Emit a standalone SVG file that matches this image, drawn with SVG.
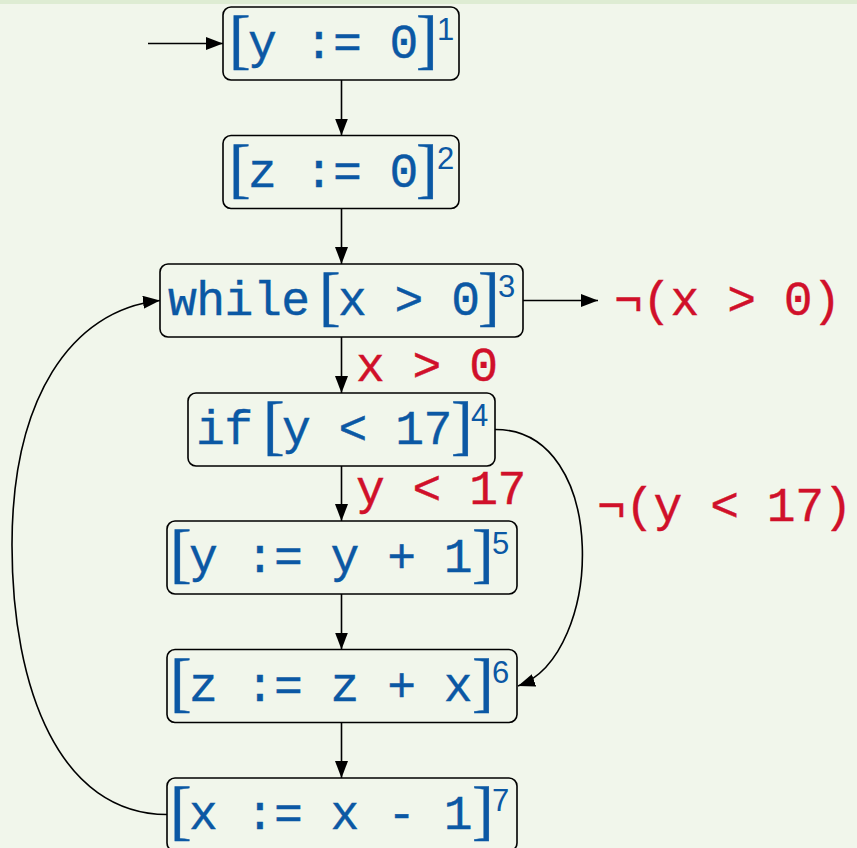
<svg xmlns="http://www.w3.org/2000/svg" width="857" height="848" viewBox="0 0 857 848">
<defs>
<style>
.box{fill:#f1f6eb;stroke:#000;stroke-width:1.6}
.t{font-family:"Liberation Mono",monospace;font-size:48px;letter-spacing:-0.5px;fill:#0b58a4;stroke:#0b58a4;stroke-width:0.4}
.br{font-family:"Liberation Serif",serif;font-size:65px;fill:#0b58a4;stroke:#0b58a4;stroke-width:0.4}
.sup{font-family:"Liberation Sans",sans-serif;font-size:31px;fill:#0b58a4}
.lbl{fill:#d0102a;stroke:#d0102a}
.edge{fill:none;stroke:#000;stroke-width:1.6}
</style>
<marker id="ah" markerUnits="userSpaceOnUse" markerWidth="17" markerHeight="13" refX="17" refY="6.5" orient="auto">
<path d="M0,0 L17,6.5 L0,13 z" fill="#000"/>
</marker>
</defs>
<rect x="0" y="0" width="857" height="848" fill="#f1f6eb"/>
<rect x="0" y="0" width="857" height="4" fill="#deecd3"/>

<g id="edges">
<path class="edge" d="M148,43.5 L223,43.5" marker-end="url(#ah)"/>
<path class="edge" d="M341.5,80 L341.5,135.5" marker-end="url(#ah)"/>
<path class="edge" d="M341.5,208.5 L341.5,264" marker-end="url(#ah)"/>
<path class="edge" d="M523,300.5 L598,300.5" marker-end="url(#ah)"/>
<path class="edge" d="M341.5,337 L341.5,393" marker-end="url(#ah)"/>
<path class="edge" d="M341.5,466 L341.5,521" marker-end="url(#ah)"/>
<path class="edge" d="M341.5,594 L341.5,649.5" marker-end="url(#ah)"/>
<path class="edge" d="M341.5,722.5 L341.5,778" marker-end="url(#ah)"/>
<path class="edge" d="M495,429.5 C610,429 605,655 518,686" marker-end="url(#ah)"/>
<path class="edge" d="M167,814.5 C60,814 12,690 12,545 C12,400 70,310 160,300.5" marker-end="url(#ah)"/>
<text class="t lbl" x="356" y="381">x &gt; 0</text>
<text class="t lbl" x="356" y="504">y &lt; 17</text>
<text class="t lbl" x="614" y="315">¬(x &gt; 0)</text>
<text class="t lbl" x="597" y="521">¬(y &lt; 17)</text>
</g>

<g id="n1">
<rect class="box" x="223" y="7" width="236" height="73" rx="8"/>
<text class="br" x="229" y="61">[</text>
<text class="t" x="248" y="58">y := 0</text>
<text class="br" x="416" y="61">]</text>
<text class="sup" x="437" y="40">1</text>
</g>

<g id="n2">
<rect class="box" x="223" y="135.5" width="236" height="73" rx="8"/>
<text class="br" x="229" y="189.5">[</text>
<text class="t" x="248" y="186.5">z := 0</text>
<text class="br" x="416" y="189.5">]</text>
<text class="sup" x="437" y="168.5">2</text>
</g>

<g id="n3">
<rect class="box" x="160" y="264" width="363" height="73" rx="8"/>
<text class="t" x="168" y="315">while</text>
<text class="br" x="319" y="318">[</text>
<text class="t" x="338" y="315">x &gt; 0</text>
<text class="br" x="478" y="318">]</text>
<text class="sup" x="498" y="297">3</text>
</g>

<g id="n4">
<rect class="box" x="188" y="393" width="307" height="73" rx="8"/>
<text class="t" x="196" y="444">if</text>
<text class="br" x="263" y="447">[</text>
<text class="t" x="282" y="444">y &lt; 17</text>
<text class="br" x="451" y="447">]</text>
<text class="sup" x="471" y="426">4</text>
</g>

<g id="n5">
<rect class="box" x="167" y="521" width="350" height="73" rx="8"/>
<text class="br" x="170" y="575">[</text>
<text class="t" x="189" y="572">y := y + 1</text>
<text class="br" x="472" y="575">]</text>
<text class="sup" x="492" y="554">5</text>
</g>

<g id="n6">
<rect class="box" x="167" y="649.5" width="350" height="73" rx="8"/>
<text class="br" x="170" y="703.5">[</text>
<text class="t" x="189" y="700.5">z := z + x</text>
<text class="br" x="472" y="703.5">]</text>
<text class="sup" x="492" y="682.5">6</text>
</g>

<g id="n7">
<rect class="box" x="167" y="778" width="350" height="73" rx="8"/>
<text class="br" x="170" y="832">[</text>
<text class="t" x="189" y="829">x := x - 1</text>
<text class="br" x="472" y="832">]</text>
<text class="sup" x="492" y="811">7</text>
</g>
</svg>
